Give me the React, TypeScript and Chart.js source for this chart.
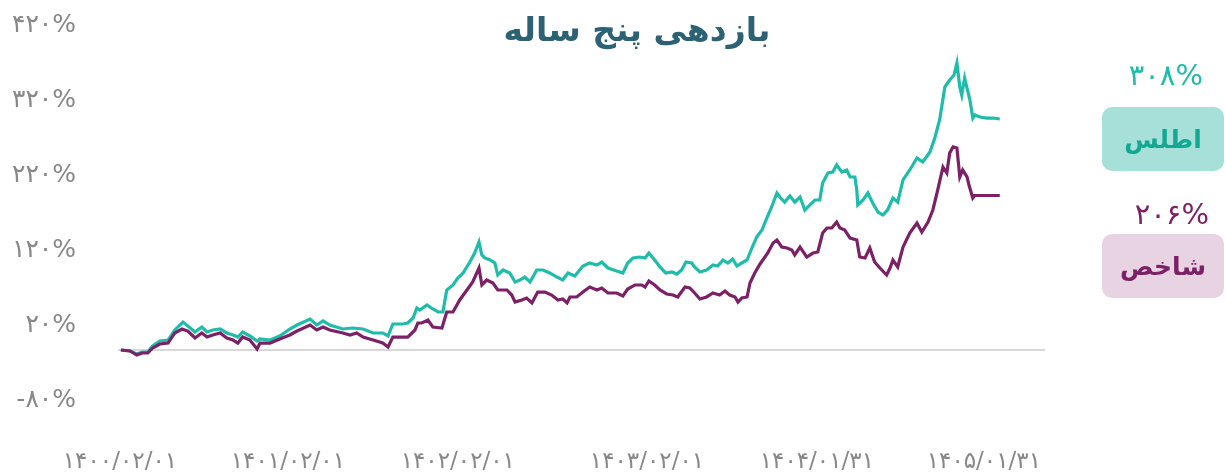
import React, { useEffect, useRef } from "react";
import { Chart, registerables } from "chart.js";

Chart.register(...registerables);

const titleText = "بازدهی پنج ساله";
const atlasName = "اطلس";
const indexName = "شاخص";
const atlasFinal = "۳۰۸%";
const indexFinal = "۲۰۶%";

const xTickDays = [-2, 347, 700, 1093, 1446, 1793];
const xTickLabels = ["۱۴۰۰/۰۲/۰۱", "۱۴۰۱/۰۲/۰۱", "۱۴۰۲/۰۲/۰۱", "۱۴۰۳/۰۲/۰۱", "۱۴۰۴/۰۱/۳۱", "۱۴۰۵/۰۱/۳۱"];
const yTickValues = [-80, 20, 120, 220, 320, 420];

const atlasDays = [0,19,33,44,56,66,81,98,112,129,139,154,168,179,191,206,220,233,243,253,268,283,289,310,330,351,366,393,407,420,434,461,482,503,524,544,555,565,586,596,607,615,621,636,648,659,669,677,690,700,711,725,735,744,750,756,767,777,783,794,808,819,829,839,850,864,877,891,906,918,929,943,960,974,989,999,1012,1030,1043,1053,1064,1078,1089,1097,1109,1120,1132,1145,1155,1165,1174,1186,1192,1203,1217,1230,1240,1251,1261,1271,1280,1290,1301,1311,1321,1332,1342,1352,1363,1369,1379,1390,1400,1411,1421,1431,1442,1452,1458,1469,1479,1487,1498,1508,1515,1525,1529,1531,1542,1552,1562,1573,1583,1593,1604,1614,1625,1639,1654,1666,1681,1691,1701,1712,1722,1731,1737,1743,1747,1753,1758,1764,1770,1774,1785,1799,1812,1826];
const atlasReturns = [0,-1.3,-5.3,-2.7,-2.7,5.3,12,13.3,26.7,37.3,32,24,30.7,24,26.7,28,22.7,20,17.3,24,18.7,12,14.7,13.3,18.7,28,33.3,41.3,33.3,38.7,33.3,28,29.3,28,22.7,22.7,18.7,34.7,34.7,36,42.7,56,53.3,60,54.7,50.7,50.7,80,86.7,96,102.7,117.3,129.3,144,126.7,122.7,120,116,100,106.7,102.7,90.7,93.3,97.3,90.7,106.7,106.7,102.7,97.3,93.3,102.7,98.7,112,116,113.3,117.3,109.3,105.3,102.7,116,122.7,124,122.7,129.3,120,110.7,102.7,104,101.3,106.7,117.3,116,110.7,104,106.7,113.3,112,120,116,121.3,112,116,120,136,150.7,160,176,190.7,209.3,204,197.3,205.3,197.3,204,186.7,193.3,200,200,222.7,236,237.3,246.7,237.3,240,230.7,230.7,213.3,193.3,200,209.3,196,184,180,186.7,202.7,197.3,226.7,240,256,250.7,264,282.7,306.7,350.7,360,366.7,382.7,350.7,340,362.7,349.3,333.3,309.3,313.3,310.7,309.3,309.3,308];

const indexDays = [0,19,33,44,56,66,81,98,112,127,139,154,168,179,191,206,220,233,243,253,268,283,289,310,330,351,366,393,407,420,434,461,476,490,503,524,544,555,565,586,596,611,617,625,638,648,667,677,690,704,719,731,744,750,760,773,783,802,812,819,833,843,854,866,881,895,908,918,927,933,947,960,974,989,999,1012,1030,1043,1053,1068,1082,1089,1097,1109,1120,1134,1147,1157,1172,1182,1192,1203,1217,1230,1244,1255,1265,1276,1282,1290,1301,1307,1317,1328,1344,1355,1363,1373,1384,1394,1400,1411,1425,1438,1448,1458,1467,1477,1487,1494,1504,1515,1529,1535,1546,1556,1566,1577,1591,1598,1604,1614,1625,1639,1654,1664,1677,1687,1697,1708,1716,1722,1729,1737,1743,1749,1758,1762,1770,1774,1785,1826];
const indexReturns = [0,-1.3,-6.7,-4,-4,2.7,8,9.3,22.7,28,25.3,16,22.7,17.3,20,22.7,16,13.3,9.3,17.3,13.3,1.3,9.3,9.3,14.7,20,25.3,33.3,26.7,30.7,26.7,22.7,20,22.7,17.3,13.3,9.3,4,17.3,17.3,17.3,26.7,36,36,40,30.7,29.3,50.7,50.7,66.7,80,90.7,109.3,86.7,93.3,89.3,80,80,73.3,64,66.7,69.3,62.7,77.3,77.3,73.3,66.7,68,62.7,70.7,70.7,77.3,84,80,82.7,76,76,72,81.3,86.7,86.7,84,92,86.7,80,74.7,73.3,70.7,84,82.7,76,68,70.7,76,73.3,78.7,73.3,70.7,64,69.3,70.7,89.3,102.7,114.7,129.3,142.7,146.7,137.3,136,133.3,126.7,137.3,124,129.3,130.7,156,162.7,162.7,170.7,162.7,160,149.3,146.7,124,122.7,136,117.3,109.3,100,109.3,120,110.7,137.3,156,169.3,157.3,170.7,186.7,213.3,244,236,262.7,270.7,269.3,230.7,240,230.7,220,202.7,206,206,206];

const TEAL = "#1fbcaa";
const PURPLE = "#7d2167";
const FONT = "'DejaVu Sans', sans-serif";

const toPersian = (s: string) => s.replace(/\d/g, (d) => "۰۱۲۳۴۵۶۷۸۹"[Number(d)]);

const zeroLine = {
  id: "zeroLine",
  beforeDatasetsDraw(chart: any) {
    const { ctx, chartArea, scales } = chart;
    const y = scales.y.getPixelForValue(0);
    ctx.save();
    ctx.strokeStyle = "#d8d8d8";
    ctx.lineWidth = 2;
    ctx.beginPath();
    ctx.moveTo(chartArea.left, y);
    ctx.lineTo(chartArea.right, y);
    ctx.stroke();
    ctx.restore();
  },
};

export default function App() {
  const ref = useRef<HTMLCanvasElement>(null);
  useEffect(() => {
    document.body.style.margin = "0";
    const chart = new Chart(ref.current!, {
      type: "line",
      data: {
        datasets: [
          {
            label: indexName,
            data: indexDays.map((d, i) => ({ x: d, y: indexReturns[i] })),
            borderColor: PURPLE,
            borderWidth: 3.2,
            pointRadius: 0,
            tension: 0,
          },
          {
            label: atlasName,
            data: atlasDays.map((d, i) => ({ x: d, y: atlasReturns[i] })),
            borderColor: TEAL,
            borderWidth: 3.2,
            pointRadius: 0,
            tension: 0,
          },
        ],
      },
      options: {
        responsive: false,
        animation: false,
        devicePixelRatio: 1,
        layout: { padding: { top: 35, right: 181, bottom: 0, left: 0 } },
        plugins: { legend: { display: false }, tooltip: { enabled: false }, title: { display: false } },
        scales: {
          x: {
            type: "linear",
            min: -6,
            max: 1920,
            grid: { display: false },
            border: { display: false },
            afterBuildTicks: (scale: any) => {
              scale.ticks = xTickDays.map((v) => ({ value: v }));
            },
            afterFit: (scale: any) => {
              scale.height = 66;
              scale.paddingLeft = 0;
              scale.paddingRight = 0;
              scale.paddingTop = 0;
              scale.paddingBottom = 0;
            },
            ticks: {
              autoSkip: false,
              maxRotation: 0,
              minRotation: 0,
              padding: 30,
              color: "#888888",
              font: { family: FONT, size: 23 },
              callback: (_v: any, i: number) => xTickLabels[i],
            },
          },
          y: {
            type: "linear",
            min: -80,
            max: 420,
            grid: { display: false },
            border: { display: false },
            afterBuildTicks: (scale: any) => {
              scale.ticks = yTickValues.map((v) => ({ value: v }));
            },
            afterFit: (scale: any) => {
              scale.width = 118;
              scale.paddingTop = 0;
              scale.paddingBottom = 0;
              scale.paddingLeft = 0;
              scale.paddingRight = 0;
            },
            ticks: {
              padding: 34,
              labelOffset: -10,
              color: "#888888",
              font: { family: FONT, size: 25 },
              callback: (v: any) => toPersian(String(v)) + "%",
            },
          },
        },
      },
      plugins: [zeroLine],
    } as any);
    return () => chart.destroy();
  }, []);

  const box = (bg: string): React.CSSProperties => ({
    position: "absolute",
    left: 1102,
    width: 122,
    height: 64,
    borderRadius: 10,
    background: bg,
    display: "flex",
    alignItems: "center",
    justifyContent: "center",
    fontFamily: FONT,
    fontWeight: "bold",
    fontSize: 25,
    direction: "rtl",
  });

  return (
    <div style={{ position: "absolute", left: 0, top: 0, width: 1226, height: 476, background: "#fff" }}>
      <canvas ref={ref} width={1226} height={476} style={{ position: "absolute", left: 0, top: 0 }} />
      <div
        style={{
          position: "absolute",
          left: 637,
          top: 10,
          transform: "translateX(-50%)",
          whiteSpace: "nowrap",
          fontFamily: FONT,
          fontWeight: "bold",
          fontSize: 33,
          color: "#2d6275",
          direction: "rtl",
        }}
      >
        {titleText}
      </div>
      <div style={{ position: "absolute", right: 23, top: 58, fontFamily: FONT, fontSize: 29, color: TEAL }}>{atlasFinal}</div>
      <div style={{ ...box("#a7e0d9"), top: 107, color: "#14a893" }}>{atlasName}</div>
      <div style={{ position: "absolute", right: 17, top: 197, fontFamily: FONT, fontSize: 29, color: PURPLE }}>{indexFinal}</div>
      <div style={{ ...box("#e7d3e2"), top: 234, color: PURPLE }}>{indexName}</div>
    </div>
  );
}
